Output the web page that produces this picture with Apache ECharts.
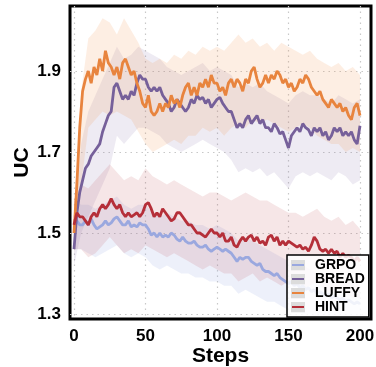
<!DOCTYPE html>
<html>
<head>
<meta charset="utf-8">
<script src="https://cdn.jsdelivr.net/npm/echarts@6/dist/echarts.min.js"></script>
<style>
  html, body { margin: 0; padding: 0; background: #fff; }
  #chart { width: 376px; height: 367px; }
</style>
</head>
<body>
<div id="chart"></div>
<script>
// training steps (every 2nd step for the mean curves, every 5th for the shaded spread)
const steps = [0,2,4,6,8,10,12,14,16,18,20,22,24,26,28,30,32,34,36,38,40,42,44,46,48,50,
  52,54,56,58,60,62,64,66,68,70,72,74,76,78,80,82,84,86,88,90,92,94,96,98,100,
  102,104,106,108,110,112,114,116,118,120,122,124,126,128,130,132,134,136,138,140,
  142,144,146,148,150,152,154,156,158,160,162,164,166,168,170,172,174,176,178,180,
  182,184,186,188,190,192,194,196,198,200];
const bandSteps = [0,5,10,15,20,25,30,35,40,45,50,55,60,65,70,75,80,85,90,95,100,
  105,110,115,120,125,130,135,140,145,150,155,160,165,170,175,180,185,190,195,200];

const xTicks = [0, 50, 100, 150, 200];
const yTicks = [1.3, 1.5, 1.7, 1.9];

const grpo = [1.535,1.53,1.52,1.52,1.53,1.52,1.535,1.52,1.51,1.515,1.52,
  1.53,1.52,1.525,1.535,1.54,1.53,1.52,1.52,1.53,1.515,
  1.52,1.515,1.525,1.52,1.52,1.51,1.495,1.50,1.49,1.50,
  1.49,1.495,1.49,1.50,1.495,1.485,1.48,1.49,1.48,1.475,
  1.475,1.48,1.47,1.465,1.465,1.47,1.46,1.455,1.46,1.465,
  1.46,1.455,1.46,1.455,1.45,1.44,1.43,1.44,1.435,1.44,
  1.44,1.43,1.425,1.42,1.425,1.41,1.405,1.405,1.40,1.395,
  1.40,1.39,1.385,1.38,1.375,1.38,1.37,1.375,1.365,1.37,
  1.36,1.365,1.355,1.36,1.35,1.355,1.35,1.345,1.35,1.34,
  1.345,1.34,1.335,1.34,1.33,1.335,1.33,1.325,1.33,1.325];
const bread = [1.46,1.55,1.60,1.63,1.66,1.67,1.69,1.70,1.71,1.72,1.75,
  1.77,1.79,1.80,1.86,1.87,1.85,1.83,1.84,1.83,1.85,
  1.84,1.87,1.89,1.88,1.88,1.86,1.85,1.86,1.85,1.86,
  1.84,1.83,1.82,1.80,1.81,1.83,1.82,1.81,1.80,1.81,
  1.83,1.82,1.84,1.83,1.835,1.82,1.83,1.81,1.82,1.83,
  1.835,1.82,1.81,1.80,1.80,1.78,1.76,1.77,1.76,1.78,
  1.79,1.77,1.78,1.79,1.77,1.78,1.76,1.76,1.75,1.77,
  1.76,1.745,1.75,1.73,1.71,1.74,1.75,1.76,1.75,1.77,
  1.76,1.755,1.74,1.76,1.75,1.76,1.74,1.75,1.73,1.74,
  1.76,1.75,1.76,1.74,1.75,1.74,1.75,1.73,1.72,1.765];
const luffy = [1.50,1.62,1.76,1.85,1.88,1.90,1.87,1.91,1.89,1.93,1.90,
  1.95,1.92,1.91,1.89,1.91,1.88,1.92,1.93,1.91,1.89,
  1.90,1.87,1.85,1.82,1.81,1.84,1.80,1.79,1.80,1.82,
  1.80,1.82,1.81,1.84,1.82,1.83,1.81,1.84,1.86,1.87,
  1.84,1.86,1.84,1.87,1.86,1.88,1.86,1.89,1.87,1.87,
  1.85,1.86,1.84,1.87,1.88,1.86,1.88,1.87,1.85,1.88,
  1.87,1.90,1.91,1.88,1.86,1.87,1.89,1.87,1.89,1.88,
  1.90,1.89,1.87,1.88,1.86,1.87,1.85,1.86,1.88,1.87,
  1.89,1.88,1.86,1.85,1.84,1.85,1.83,1.82,1.81,1.83,
  1.82,1.81,1.82,1.80,1.81,1.79,1.78,1.81,1.82,1.79];
const hint = [1.52,1.55,1.54,1.54,1.53,1.52,1.54,1.55,1.54,1.56,1.57,
  1.56,1.57,1.585,1.57,1.56,1.57,1.55,1.54,1.55,1.54,
  1.545,1.55,1.54,1.55,1.57,1.575,1.56,1.54,1.55,1.54,
  1.56,1.55,1.54,1.53,1.535,1.55,1.55,1.54,1.53,1.52,
  1.52,1.51,1.50,1.50,1.495,1.49,1.50,1.51,1.50,1.50,
  1.49,1.50,1.48,1.48,1.49,1.47,1.465,1.48,1.49,1.48,
  1.49,1.495,1.48,1.49,1.475,1.48,1.47,1.49,1.495,1.48,
  1.49,1.47,1.48,1.47,1.48,1.475,1.47,1.465,1.47,1.46,
  1.465,1.455,1.47,1.49,1.48,1.46,1.455,1.46,1.45,1.46,
  1.45,1.455,1.44,1.45,1.44,1.445,1.44,1.43,1.44,1.43];

// shaded spread, upper and lower edges
const grpoHi = [1.58,1.57,1.57,1.56,1.57,1.58,1.59,1.57,1.56,1.57,1.57,1.55,1.54,1.55,1.54,1.53,1.53,1.52,1.52,1.51,1.52,
  1.51,1.50,1.48,1.49,1.48,1.47,1.46,1.45,1.44,1.43,1.42,1.42,1.41,1.40,1.40,1.39,1.39,1.38,1.38,1.37];
const grpoLo = [1.46,1.46,1.45,1.44,1.45,1.46,1.47,1.45,1.44,1.45,1.44,1.42,1.41,1.42,1.41,1.40,1.40,1.39,1.39,1.38,1.38,
  1.37,1.37,1.35,1.36,1.35,1.34,1.33,1.33,1.32,1.31,1.31,1.30,1.30,1.29,1.29,1.29,1.29,1.29,1.29,1.29];
const breadHi = [1.50,1.72,1.80,1.84,1.88,1.92,1.96,1.93,1.94,1.96,1.95,1.94,1.93,1.91,1.90,1.89,1.90,1.91,1.92,1.90,1.91,
  1.90,1.89,1.86,1.87,1.86,1.87,1.85,1.84,1.83,1.82,1.84,1.85,1.84,1.84,1.83,1.82,1.84,1.83,1.82,1.83];
const breadLo = [1.42,1.50,1.54,1.58,1.62,1.66,1.74,1.72,1.74,1.76,1.76,1.75,1.74,1.72,1.71,1.70,1.71,1.72,1.73,1.72,1.71,
  1.70,1.68,1.65,1.66,1.65,1.66,1.64,1.65,1.63,1.61,1.64,1.65,1.64,1.65,1.64,1.63,1.65,1.64,1.62,1.63];
const luffyHi = [1.55,1.85,1.98,2.00,2.03,2.02,1.99,2.03,2.00,1.97,1.93,1.92,1.93,1.92,1.94,1.93,1.95,1.94,1.96,1.95,1.96,
  1.95,1.97,1.99,1.97,1.98,1.96,1.97,1.95,1.97,1.96,1.95,1.94,1.95,1.93,1.92,1.91,1.92,1.90,1.91,1.89];
const luffyLo = [1.45,1.62,1.76,1.78,1.80,1.79,1.80,1.79,1.78,1.75,1.72,1.70,1.71,1.72,1.73,1.72,1.74,1.74,1.76,1.75,1.76,
  1.74,1.76,1.77,1.76,1.78,1.77,1.78,1.77,1.76,1.75,1.76,1.77,1.76,1.74,1.73,1.72,1.72,1.70,1.71,1.70];
const hintHi = [1.58,1.62,1.61,1.63,1.65,1.67,1.65,1.63,1.64,1.63,1.66,1.64,1.63,1.62,1.63,1.62,1.61,1.60,1.59,1.60,1.60,
  1.59,1.58,1.59,1.60,1.59,1.58,1.58,1.57,1.56,1.55,1.55,1.54,1.55,1.56,1.54,1.53,1.54,1.52,1.53,1.51];
const hintLo = [1.46,1.46,1.44,1.45,1.47,1.49,1.47,1.45,1.46,1.45,1.47,1.46,1.45,1.44,1.45,1.44,1.43,1.42,1.41,1.42,1.41,
  1.40,1.40,1.38,1.39,1.40,1.38,1.39,1.38,1.37,1.38,1.37,1.36,1.37,1.38,1.36,1.35,1.36,1.35,1.34,1.34];

const methods = [
  { name: "GRPO",  mean: grpo,  hi: grpoHi,  lo: grpoLo,  line: "#9aa8df", fill: "rgba(150,165,225,0.17)" },
  { name: "BREAD", mean: bread, hi: breadHi, lo: breadLo, line: "#76609a", fill: "rgba(125,100,165,0.13)" },
  { name: "LUFFY", mean: luffy, hi: luffyHi, lo: luffyLo, line: "#e8843e", fill: "rgba(240,140,70,0.15)" },
  { name: "HINT",  mean: hint,  hi: hintHi,  lo: hintLo,  line: "#b52f39", fill: "rgba(185,50,60,0.12)" },
];

const FONT = "Liberation Sans";

function legendIcon(color) {
  const svg = `<svg xmlns='http://www.w3.org/2000/svg' width='14' height='11'>` +
    `<rect width='14' height='11' fill='#dcdcdc'/>` +
    `<rect x='1' y='4.5' width='12' height='2' fill='${color}'/></svg>`;
  return "image://data:image/svg+xml;charset=utf-8," + encodeURIComponent(svg);
}

const bandSeries = methods.map((m) => ({
  type: "custom",
  name: m.name + " band",
  coordinateSystem: "cartesian2d",
  silent: true,
  clip: true,
  z: 1,
  encode: { x: 0, y: [1, 2] },
  data: bandSteps.map((s, i) => [s, m.lo[i], m.hi[i]]),
  renderItem: (params, api) => {
    if (params.dataIndex !== 0) return;
    const pts = [];
    for (let i = 0; i < bandSteps.length; i++) pts.push(api.coord([bandSteps[i], m.hi[i]]));
    for (let i = bandSteps.length - 1; i >= 0; i--) pts.push(api.coord([bandSteps[i], m.lo[i]]));
    return { type: "polygon", shape: { points: pts }, style: { fill: m.fill } };
  },
}));

const lineSeries = methods.map((m) => ({
  type: "line",
  name: m.name,
  data: steps.map((s, i) => [s, m.mean[i]]),
  showSymbol: false,
  z: 3,
  lineStyle: { color: m.line, width: 2.8 },
  itemStyle: { color: m.line },
}));

const chart = echarts.init(document.getElementById("chart"));
chart.setOption({
  animation: false,
  backgroundColor: "#fff",
  grid: {
    left: 70, right: 5, top: 6, bottom: 48,
    outerBoundsMode: "none",
    show: true, borderColor: "#000", borderWidth: 3,
  },
  xAxis: {
    type: "value",
    min: -2.8,
    max: 207.7,
    axisLine: { show: false },
    axisTick: { show: false, customValues: xTicks },
    axisLabel: { customValues: xTicks, color: "#000", fontSize: 17, fontWeight: "bold", fontFamily: FONT, margin: 9 },
    splitLine: { show: true, lineStyle: { color: "#c8c8c8", type: [1.5, 4], width: 1.2 } },
    name: "Steps",
    nameLocation: "middle",
    nameGap: 27,
    nameMoveOverlap: false,
    nameTextStyle: { color: "#000", fontSize: 21, fontWeight: "bold", fontFamily: FONT },
  },
  yAxis: {
    type: "value",
    min: 1.2877,
    max: 2.0605,
    axisLine: { show: false },
    axisTick: { show: false, customValues: yTicks },
    axisLabel: {
      customValues: yTicks,
      formatter: (v) => v.toFixed(1),
      color: "#000", fontSize: 17, fontWeight: "bold", fontFamily: FONT, margin: 9,
    },
    splitLine: { show: true, lineStyle: { color: "#c8c8c8", type: [1.5, 4], width: 1.2 } },
    name: "UC",
    nameLocation: "middle",
    nameGap: 37,
    nameMoveOverlap: false,
    nameTextStyle: { color: "#000", fontSize: 21, fontWeight: "bold", fontFamily: FONT },
  },
  legend: {
    orient: "vertical",
    left: 287,
    top: 255,
    padding: [3, 4, 3, 4],
    itemGap: 0,
    itemWidth: 14,
    itemHeight: 11,
    backgroundColor: "rgba(255,255,255,0.85)",
    borderColor: "#000",
    borderWidth: 1.5,
    borderRadius: 0,
    data: methods.map((m) => ({ name: m.name, icon: legendIcon(m.line) })),
    textStyle: { color: "#000", fontSize: 14, fontWeight: "bold", fontFamily: FONT, lineHeight: 12.7, padding: [0, 0, 0, 5] },
  },
  series: [...bandSeries, ...lineSeries],
});
</script>
</body>
</html>
